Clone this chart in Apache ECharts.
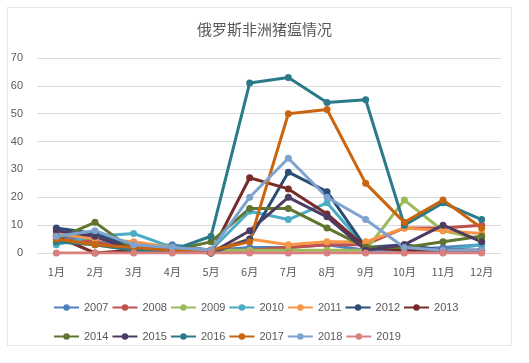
<!DOCTYPE html>
<html><head><meta charset="utf-8">
<script src="https://cdn.jsdelivr.net/npm/echarts@6/dist/echarts.min.js"></script>
<style>html,body{margin:0;padding:0;background:#fff;}#frame{position:absolute;left:7px;top:7px;width:503px;height:337px;border:1px solid #e6e6e6;}#c{position:absolute;left:0;top:0;width:529px;height:363px;}</style>
</head><body><div id="frame"></div><div id="c"></div>
<script>
const months = ['1月','2月','3月','4月','5月','6月','7月','8月','9月','10月','11月','12月'];
const years = ['2007','2008','2009','2010','2011','2012','2013','2014','2015','2016','2017','2018','2019'];
const s2007 = [6,5,2,3,1,2,2,3,1,1,2,3];
const s2008 = [5,4,1,1,1,1,2,3,3,9,9,10];
const s2009 = [4,3,1,1,1,1,1,1,1,19,8,5];
const s2010 = [3,6,7,2,1,15,12,18,2,1,1,3];
const s2011 = [7,5,4,2,1,5,3,4,4,9,8,7];
const s2012 = [9,7,2,1,0,5,29,22,2,3,1,1];
const s2013 = [6,0,1,1,0,27,23,14,2,1,1,1];
const s2014 = [5,11,1,1,4,16,16,9,2,2,4,6];
const s2015 = [8,6,1,1,0,8,20,13,1,3,10,4];
const s2016 = [4,3,1,1,6,61,63,54,55,10,18,12];
const s2017 = [5,3,2,1,1,4,50,51.5,25,11,19,9];
const s2018 = [6,8,3,2,1,20,34,20,12,2,1,1];
const s2019 = [0,0,0,0,0,0,0,0,0,0,0,0];
const seriesData = [s2007,s2008,s2009,s2010,s2011,s2012,s2013,s2014,s2015,s2016,s2017,s2018,s2019];
const colors = ['#4F81BD','#C0504D','#9BBB59','#4BACC6','#F79646','#2C4D75','#772C2A','#5F7530','#4D3B62','#2A7A8A','#C9650E','#7FA3D0','#D9807E'];

const chart = echarts.init(document.getElementById('c'));
const legendCommon = {left:48, itemWidth:25, itemHeight:8, itemGap:3,
  textStyle:{color:'#595959', fontSize:11, fontFamily:'Liberation Sans Narrow, Liberation Sans, Arial'}};
chart.setOption({
  animation:false,
  color: colors,
  title:{text:'俄罗斯非洲猪瘟情况', left:'center', top:17,
    textStyle:{color:'#595959', fontSize:15, fontWeight:'normal', fontFamily:'Noto Sans CJK SC'}},
  legend:[
    Object.assign({top:297, data:years.slice(0,7)}, legendCommon),
    Object.assign({top:326, data:years.slice(7)}, legendCommon)
  ],
  grid:{left:37, right:28, top:58, bottom:110},
  xAxis:{type:'category', data:months, boundaryGap:true,
    axisLine:{show:false}, axisTick:{show:false},
    axisLabel:{color:'#595959', fontSize:11, margin:13, fontFamily:'Noto Sans CJK SC'}},
  yAxis:{type:'value', min:0, max:70, interval:10,
    axisLabel:{color:'#595959', fontSize:11, margin:14, fontFamily:'Liberation Sans, Arial'},
    splitLine:{lineStyle:{color:'#D9D9D9', width:1}},
    axisLine:{show:false}, axisTick:{show:false}},
  series: years.map((y,i)=>({
    name:y, type:'line', data:seriesData[i],
    symbol:'circle', symbolSize:7,
    lineStyle:{width:3, color:colors[i]},
    itemStyle:{color:colors[i]}
  }))
});
</script></body></html>
